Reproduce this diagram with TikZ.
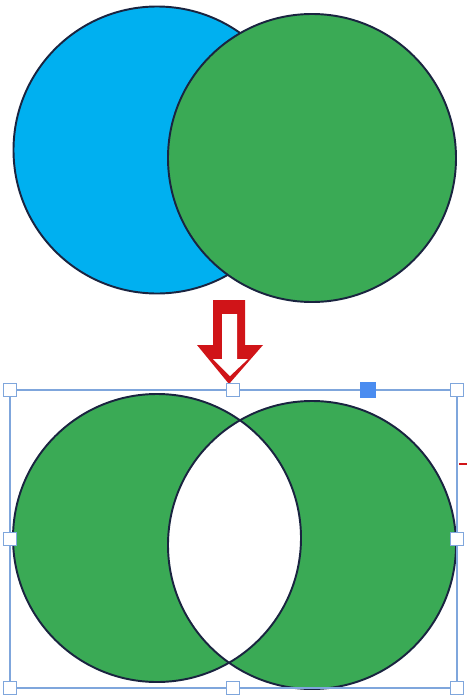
\documentclass[tikz,border=0pt]{standalone}
\usepackage{xcolor}
\usepackage{tikz}
\usetikzlibrary{calc}
\definecolor{skyblue}{HTML}{00B0F0}
\definecolor{leafgreen}{HTML}{3AAA55}
\definecolor{arrowred}{HTML}{D01418}
\definecolor{selblue}{HTML}{7FA6DC}
\definecolor{handleblue}{HTML}{4A8CF0}
\definecolor{rim}{HTML}{1A2440}

\begin{document}
\begin{tikzpicture}[x=0.02cm,y=-0.02cm,
		ring/.style={draw=rim,line width=1.1pt},
		frame/.style={draw=selblue,line width=0.8pt},
		handle/.style={draw=selblue,fill=white,line width=0.7pt,minimum size=7pt,inner sep=0pt,shape=rectangle},
		knob/.style={handle,draw=handleblue,fill=handleblue,minimum size=8pt}
		]
		\useasboundingbox (0,0) rectangle (467,700);

		% Top pair: blue under green
		\coordinate (ta) at (157,150);
		\coordinate (tb) at (312,158);
		\fill[skyblue] (ta) circle[radius=143.5];
		\draw[ring] (ta) circle[radius=143.5];
		\fill[leafgreen] (tb) circle[radius=144];
		\draw[ring] (tb) circle[radius=144];

		% Hollow arrow
		\fill[arrowred] (213,300) -- (245,300) -- (245,345) -- (263,345) -- (229,384) -- (197,345) -- (213,345) -- cycle;
		\fill[white] (222,314) -- (237,314) -- (237,359) -- (248,359) -- (230,376) -- (213,359) -- (222,359) -- cycle;

		% Bottom pair: overlap removed
		\coordinate (ba) at (157,538);
		\coordinate (bb) at (312,545);
		\fill[leafgreen,even odd rule] (ba) circle[radius=144] (bb) circle[radius=144];
		\draw[ring] (ba) circle[radius=144];
		\draw[ring] (bb) circle[radius=144];

		% Selection frame
		\draw[frame] (10,390) rectangle (457,688);
		\node[handle] (h1) at (10,390) {};
		\node[handle] (h2) at (233,390) {};
		\node[handle] (h3) at (457,390) {};
		\node[handle] (h4) at (10,539) {};
		\node[handle] (h5) at (457,539) {};
		\node[handle] (h6) at (10,688) {};
		\node[handle] (h7) at (233,688) {};
		\node[handle] (h8) at (457,688) {};
		\node[knob] (k1) at (368,390) {};
		\draw[arrowred,line width=1.6pt] (459,464) -- (467,464);
	\end{tikzpicture}
\end{document}
